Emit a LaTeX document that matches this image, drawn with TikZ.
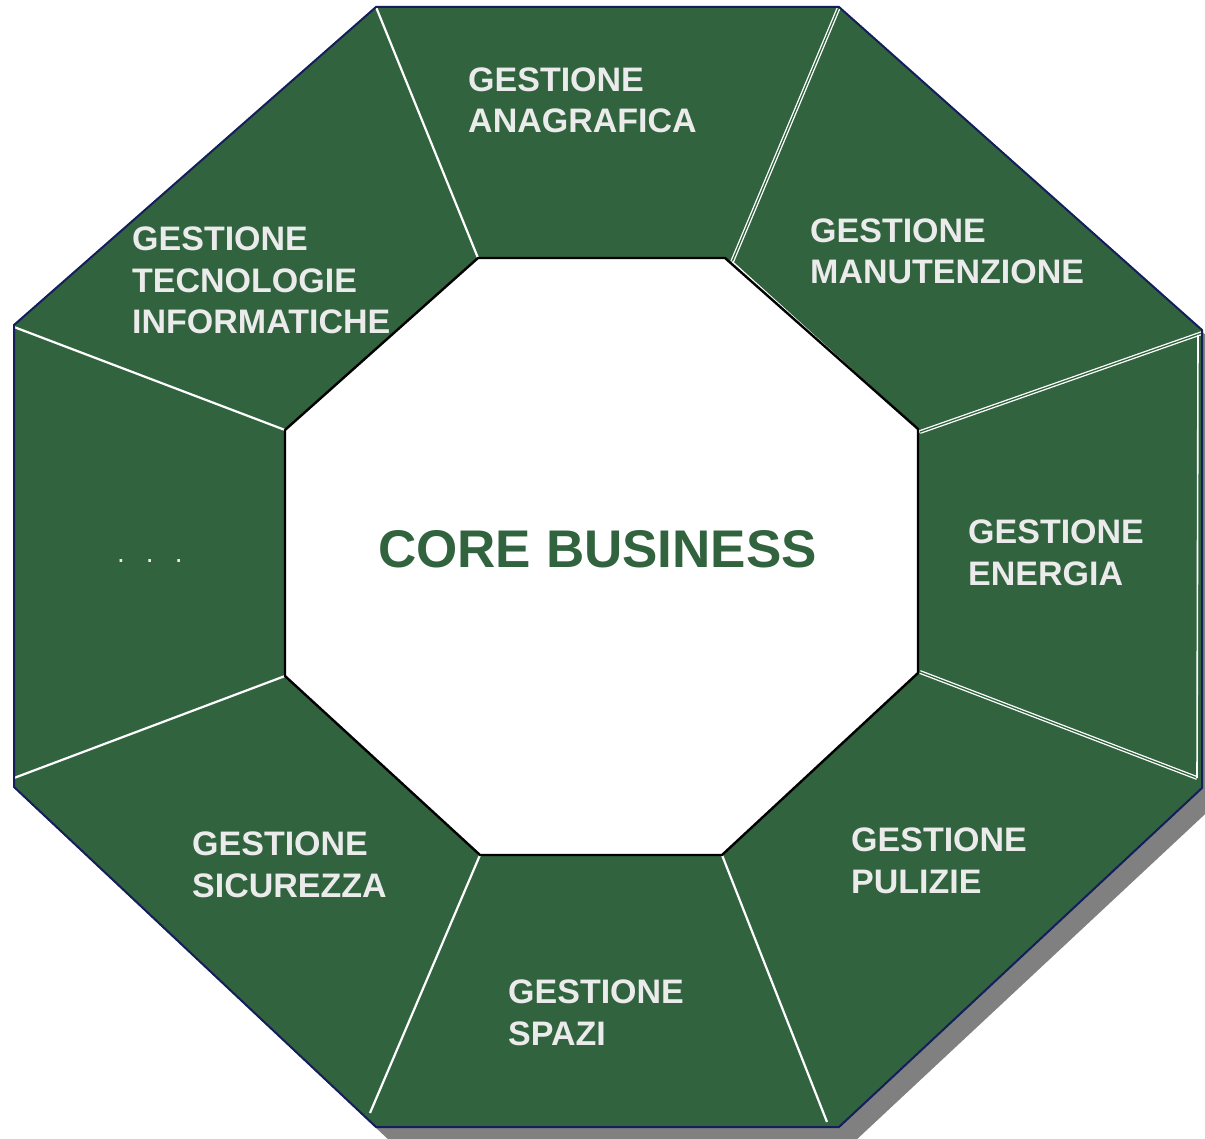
\documentclass[tikz,border=0pt]{standalone}
\usepackage{fontspec}
\setmainfont{Liberation Sans}
\definecolor{gfill}{RGB}{48,99,62}
\definecolor{navy}{RGB}{20,30,90}
\definecolor{lbl}{RGB}{235,235,235}
\definecolor{shadowgray}{RGB}{128,128,128}
\begin{document}
\begin{tikzpicture}[x=1pt,y=-1pt,
  seg/.style={draw=white,line width=2.2pt},
  dseg/.style={draw=white,line width=1.3pt,double=gfill,double distance=1.3pt},
  lab/.style={anchor=base west,inner sep=0pt,align=left,text=lbl,
    font=\bfseries\fontsize{34}{41.7}\selectfont},
  sh/.style={xshift=15pt,yshift=-15pt},
]
\useasboundingbox (0,0) rectangle (1205,1139);
% outer vertices
\coordinate (o1) at (376,7);   \coordinate (o2) at (839,7);
\coordinate (o3) at (1202,330);\coordinate (o4) at (1202,788);
\coordinate (o5) at (839,1127);\coordinate (o6) at (376,1127);
\coordinate (o7) at (14,787);  \coordinate (o8) at (14,325);
% inner vertices
\coordinate (i1) at (478,258); \coordinate (i2) at (725,258);
\coordinate (i3) at (918,429); \coordinate (i4) at (918,673);
\coordinate (i5) at (722,855); \coordinate (i6) at (480,855);
\coordinate (i7) at (285,676); \coordinate (i8) at (285,430);
% shadow
\fill[fill=shadowgray] ([sh]o1)--([sh]o2)--([sh]o3)--([sh]o4)--([sh]o5)--([sh]o6)--([sh]o7)--([sh]o8)--cycle;
% outer octagon
\fill[gfill] (o1)--(o2)--(o3)--(o4)--(o5)--(o6)--(o7)--(o8)--cycle;
% separators
\coordinate (s2a) at (732,262); \coordinate (s3a) at (1202,333);
\coordinate (s3b) at (920,432); \coordinate (s4a) at (920,672);
\coordinate (s4b) at (1197,778);\coordinate (s5b) at (827,1122);
\coordinate (s6b) at (370,1113);\coordinate (s7b) at (14,778);
\coordinate (s8a) at (14,327);  \coordinate (s9a) at (1198,335);
\draw[seg] (o1) -- (i1);
\draw[dseg] (o2) -- (s2a);
\draw[seg] (s2a) -- (s3b);
\draw[dseg] (s3a) -- (s3b);
\draw[dseg] (s4a) -- (s4b);
\draw[seg,line width=1.6pt] (s9a) -- (s4b);
\draw[seg] (i5) -- (s5b);
\draw[seg] (i6) -- (s6b);
\draw[seg] (i7) -- (s7b);
\draw[seg] (s8a) -- (i8);
\draw[navy,line width=2pt,line join=miter] (o1)--(o2)--(o3)--(o4)--(o5)--(o6)--(o7)--(o8)--cycle;
% inner octagon
\filldraw[fill=white,draw=black,line width=2.4pt] (i1)--(i2)--(i3)--(i4)--(i5)--(i6)--(i7)--(i8)--cycle;
% labels
\node[lab] (anag) at (468,133) {GESTIONE\\ANAGRAFICA};
\node[lab] (manu) at (810,284) {GESTIONE\\MANUTENZIONE};
\node[lab] (tecn) at (132,334) {GESTIONE\\TECNOLOGIE\\INFORMATICHE};
\node[lab] (ener) at (968,585) {GESTIONE\\ENERGIA};
\node[lab] (puli) at (851,893) {GESTIONE\\PULIZIE};
\node[lab] (spaz) at (508,1045) {GESTIONE\\SPAZI};
\node[lab] (sicu) at (192,897) {GESTIONE\\SICUREZZA};
\node[anchor=base west,inner sep=0pt,text=lbl,font=\fontsize{28}{30}\selectfont] (dots) at (117,562) {.\hspace{21pt}.\hspace{21pt}.};
\node[anchor=base west,inner sep=0pt,text=gfill,font=\bfseries\fontsize{53}{60}\selectfont] (core) at (378,567) {CORE BUSINESS};
\end{tikzpicture}
\end{document}
